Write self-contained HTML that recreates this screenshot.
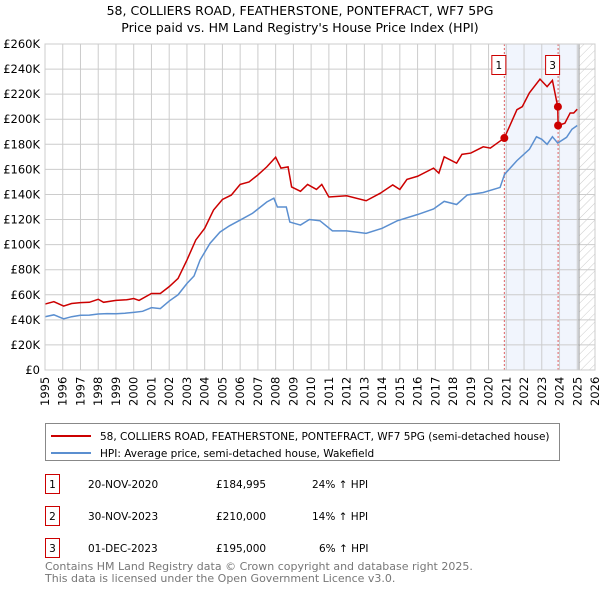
<!DOCTYPE html>
<html><head><meta charset="utf-8"><style>
body{margin:0;background:#fff;font-family:"Liberation Sans","DejaVu Sans",sans-serif;}
svg text{font-family:"DejaVu Sans","Liberation Sans",sans-serif;}
</style></head><body>
<svg id="c" width="600" height="590" viewBox="0 0 600 590" xmlns="http://www.w3.org/2000/svg">
<defs><pattern id="hatch" width="6" height="6" patternUnits="userSpaceOnUse" patternTransform="rotate(45)"><line x1="0" y1="0" x2="0" y2="6" stroke="#ccc" stroke-width="1"/></pattern></defs>
<text x="300" y="15" text-anchor="middle" font-size="12.5" fill="#000">58, COLLIERS ROAD, FEATHERSTONE, PONTEFRACT, WF7 5PG</text>
<text x="300" y="32" text-anchor="middle" font-size="12.5" fill="#000">Price paid vs. HM Land Registry's House Price Index (HPI)</text>
<g id="plot"></g>
<g>
<rect x="45.5" y="423.5" width="514" height="37" fill="#fff" stroke="#888"/>
<line x1="51" y1="436" x2="91" y2="436" stroke="#cc0000" stroke-width="2"/>
<text x="100" y="440" font-size="10.5">58, COLLIERS ROAD, FEATHERSTONE, PONTEFRACT, WF7 5PG (semi-detached house)</text>
<line x1="51" y1="453" x2="91" y2="453" stroke="#5b8fd0" stroke-width="2"/>
<text x="100" y="457" font-size="10.5">HPI: Average price, semi-detached house, Wakefield</text>
</g>
<g font-size="10.5">
<rect x="45.5" y="474.5" width="14" height="19" fill="#fff" stroke="#cc0000"/><text x="52.5" y="488" text-anchor="middle">1</text>
<text x="88" y="488">20-NOV-2020</text><text x="216" y="488">£184,995</text><text x="312" y="488">24% ↑ HPI</text>
<rect x="45.5" y="506.5" width="14" height="19" fill="#fff" stroke="#cc0000"/><text x="52.5" y="520" text-anchor="middle">2</text>
<text x="88" y="520">30-NOV-2023</text><text x="216" y="520">£210,000</text><text x="312" y="520">14% ↑ HPI</text>
<rect x="45.5" y="538.5" width="14" height="19" fill="#fff" stroke="#cc0000"/><text x="52.5" y="552" text-anchor="middle">3</text>
<text x="88" y="552">01-DEC-2023</text><text x="216" y="552">£195,000</text><text x="319" y="552">6% ↑ HPI</text>
</g>
<text x="45" y="570" font-size="11" fill="#777">Contains HM Land Registry data © Crown copyright and database right 2025.</text>
<text x="45" y="582" font-size="11" fill="#777">This data is licensed under the Open Government Licence v3.0.</text>
</svg>
<script>
const yTicks=[0,20,40,60,80,100,120,140,160,180,200,220,240,260];
const yearTicks=[1995,1996,1997,1998,1999,2000,2001,2002,2003,2004,2005,2006,2007,2008,2009,2010,2011,2012,2013,2014,2015,2016,2017,2018,2019,2020,2021,2022,2023,2024,2025,2026];
const hpiYears=[1995,1995.5,1996.05,1996.5,1997,1997.5,1998,1998.5,1999,1999.5,2000,2000.5,2001,2001.5,2002,2002.5,2003,2003.4,2003.74,2004.3,2004.86,2005.4,2006,2006.7,2007.5,2007.9,2008.1,2008.6,2008.8,2009.4,2009.9,2010.5,2011.2,2012,2013.1,2014,2014.85,2016,2016.9,2017.5,2018.2,2018.8,2019.7,2020.65,2020.9,2021.6,2022.3,2022.7,2023,2023.3,2023.6,2023.9,2024.4,2024.7,2025];
const hpiValues=[42.5,44,40.8,42.5,43.7,43.8,44.7,45,44.9,45.3,46,46.8,49.7,49,55,60,69,75,87.7,101,110,115,119.6,125,134,137,130,130,118,115.6,120,119,111,111,109,113,119,124,128.4,134.5,132,139.6,141.6,145.6,156,167,176,186,184,180,186,181,185.6,192,195];
const priceYears=[1995,1995.5,1996.05,1996.5,1997,1997.5,1998,1998.3,1999,1999.6,2000,2000.3,2001,2001.5,2002,2002.5,2003,2003.5,2004,2004.5,2005,2005.5,2006,2006.5,2007,2007.5,2008,2008.3,2008.7,2008.9,2009.4,2009.8,2010.3,2010.6,2011,2012,2013.1,2013.9,2014.6,2015,2015.4,2016,2016.9,2017.2,2017.5,2018.2,2018.5,2019,2019.7,2020.1,2020.65,2020.89,2021.6,2021.9,2022.3,2022.9,2023.3,2023.6,2023.9,2023.92,2024.3,2024.6,2024.8,2025];
const priceValues=[52.6,54.5,51,53,53.7,54,56.4,54,55.5,56,57,55.5,61,61,66.5,73,87.7,103.7,113,127.6,136,139.5,148,150,155.6,162,169.7,161,162,146,142.5,148,144,148,138,139,135,141,147.6,144,152,154.5,161,157,170,165,172,173,178,177,182.6,185,207.6,210,221,232,226,231,210,195,196.8,205,205,208];
const saleYears=[2020.89,2023.91,2023.92];
const saleValues=[184.995,210,195];
const saleLabels=["1","2","3"];
const NS='http://www.w3.org/2000/svg';
const X0=45,X1=595,Y0=370,Y1=44;
const xS=y=>X0+(y-1995)/(2026-1995)*(X1-X0);
const yS=v=>Y0-v/260*(Y0-Y1);
const g=document.getElementById('plot');
function mk(t,a,p){const e=document.createElementNS(NS,t);for(const k in a)e.setAttribute(k,a[k]);(p||g).appendChild(e);return e;}
const shade=mk('rect',{x:xS(2020.89),y:Y1,width:xS(2025.1)-xS(2020.89),height:Y0-Y1,fill:'#eef3fc',opacity:0.8});


const hat=mk('rect',{x:xS(2025.1),y:Y1,width:X1-xS(2025.1),height:Y0-Y1,fill:'url(#hatch)'});


yTicks.forEach(v=>{const l=mk('line',{x1:X0,x2:X1,y1:yS(v),y2:yS(v),stroke:'#ccc'});


const t=mk('text',{x:40,y:yS(v)+4,'text-anchor':'end','font-size':'11.5'});t.textContent=v===0?'£0':'£'+v+'K';

});
yearTicks.forEach(y=>{const l=mk('line',{x1:xS(y),x2:xS(y),y1:Y1,y2:Y0,stroke:'#ccc'});


const t=mk('text',{x:0,y:0,'font-size':'11.5','transform':`translate(${xS(y)+4},406) rotate(-90)`});t.textContent=y;

});
const vl=mk('line',{x1:xS(2025.1),x2:xS(2025.1),y1:Y1,y2:Y0,stroke:'#999'});


[saleYears[0],saleYears[2]].forEach(y=>{const l=mk('line',{x1:xS(y),x2:xS(y),y1:Y1,y2:Y0,stroke:'#e06060','stroke-dasharray':'2,2'});

});
const hp=mk('polyline',{points:hpiYears.map((y,i)=>xS(y)+','+yS(hpiValues[i])).join(' '),fill:'none',stroke:'#5b8fd0','stroke-width':1.5});


const pp=mk('polyline',{points:priceYears.map((y,i)=>xS(y)+','+yS(priceValues[i])).join(' '),fill:'none',stroke:'#cc0000','stroke-width':1.5});


saleYears.forEach((y,i)=>{const c=mk('circle',{cx:xS(y),cy:yS(saleValues[i]),r:4,fill:'#cc0000'});

});
[[0,'1'],[2,'3']].forEach(([i,lab])=>{const bx=xS(saleYears[i])-13;const r=mk('rect',{x:bx+0.5,y:55.5,width:14,height:19,fill:'#fff',stroke:'#cc0000'});


const t=mk('text',{x:bx+7.5,y:69,'text-anchor':'middle','font-size':'10.5'});t.textContent=lab;

});
const ax=mk('rect',{x:X0,y:Y1,width:X1-X0,height:Y0-Y1,fill:'none',stroke:'#ccc'});


</script>
</body></html>
